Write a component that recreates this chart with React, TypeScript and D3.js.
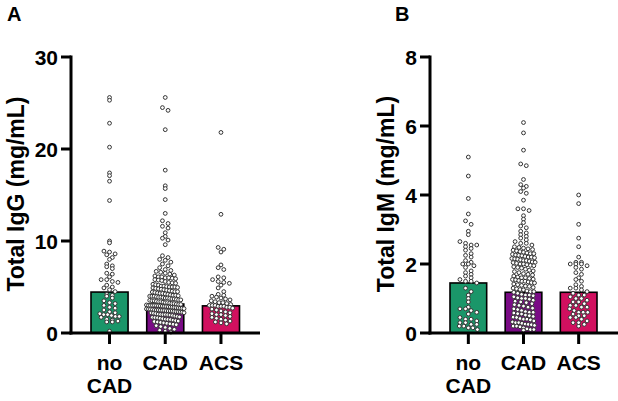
import React from "react";
import * as d3 from "d3";

const categories = ["no CAD", "CAD", "ACS"];
const igGMeans = [4.45, 3.15, 2.95];
const igMMeans = [1.45, 1.18, 1.18];
const igGTicks = [0, 10, 20, 30];
const igMTicks = [0, 2, 4, 6, 8];

const igGNoCAD = [25.6, 25.3, 22.8, 20.2, 17.4, 17.1, 16.5, 14.4, 10.0, 9.8, 8.9, 8.8, 8.6, 8.5, 8.2, 8.0, 7.5, 7.3, 7.2, 7.0,
  6.5, 6.4, 6.1, 5.8, 5.8, 5.6, 5.5, 5.2, 5.0, 4.9, 4.7, 4.5, 4.2, 4.1, 4.0, 3.8, 3.5, 3.3, 3.2, 3.0, 2.8, 2.7, 2.5, 2.3,
  2.2, 2.1, 2.0, 2.0, 1.9, 1.8, 1.8, 1.7, 1.5, 1.4, 1.3, 1.2, 1.2, 0.2];
const igGCAD = [25.6, 24.5, 24.2, 22.1, 17.7, 16.0, 15.7, 14.5, 13.0, 12.2, 11.9, 11.6, 11.4, 10.9, 10.5, 10.3, 10.1, 9.6,
  8.4, 8.2, 8.0, 7.9, 7.7, 7.5, 7.3, 7.1,
  6.9, 6.8, 6.7, 6.6, 6.5, 6.4, 6.3, 6.2, 6.1, 6.1, 6.0, 6.0,
  5.95, 5.9, 5.8, 5.75, 5.7, 5.6, 5.5, 5.45, 5.4, 5.3, 5.25, 5.2, 5.1, 5.1, 5.05, 5.0, 5.0, 5.0,
  4.95, 4.9, 4.85, 4.8, 4.75, 4.7, 4.65, 4.6, 4.55, 4.5, 4.5, 4.45, 4.4, 4.35, 4.3, 4.3, 4.25, 4.2, 4.15, 4.1, 4.1, 4.05, 4.0, 4.0, 4.0,
  3.95, 3.9, 3.9, 3.85, 3.8, 3.8, 3.75, 3.7, 3.7, 3.65, 3.6, 3.6, 3.55, 3.5, 3.5, 3.45, 3.4, 3.4, 3.35, 3.3, 3.3, 3.25, 3.2, 3.2,
  3.15, 3.1, 3.1, 3.05, 3.0, 3.0, 3.0, 3.0, 2.98, 2.96, 2.95,
  2.92, 2.9, 2.88, 2.85, 2.82, 2.8, 2.78, 2.75, 2.72, 2.7, 2.68, 2.65, 2.62, 2.6, 2.58, 2.55, 2.52, 2.5, 2.5, 2.48, 2.46, 2.45,
  2.42, 2.4, 2.4, 2.38, 2.35, 2.32, 2.3, 2.28, 2.25, 2.2, 2.18, 2.15, 2.1, 2.05, 2.02, 2.0, 2.0, 1.98,
  1.95, 1.9, 1.85, 1.8, 1.75, 1.7, 1.68, 1.65, 1.6, 1.55, 1.5, 1.48, 1.45, 1.4, 1.35, 1.3, 1.25, 1.2, 1.15, 1.1, 1.05, 1.0,
  0.95, 0.9, 0.8, 0.7, 0.6, 0.5, 0.4, 0.3, 0.2, 0.1];
const igGACS = [21.8, 12.9, 9.3, 9.1, 8.8, 7.4, 7.1, 6.9, 6.1, 6.0, 5.8, 5.6, 5.5, 5.4, 5.2, 4.9, 4.5, 4.2, 4.1, 4.0, 3.9,
  3.8, 3.7, 3.6, 3.5, 3.4, 3.3, 3.3, 3.2, 3.1, 3.0, 3.0, 3.0, 2.9, 2.9, 2.9, 2.8, 2.8, 2.7, 2.6, 2.5, 2.4, 2.3, 2.2,
  2.1, 2.0, 2.0, 1.9, 1.8, 1.7, 1.6, 1.5, 1.4, 1.3, 1.2, 1.1, 1.0];

const igMNoCAD = [5.1, 4.55, 3.9, 3.45, 3.25, 3.15, 2.95, 2.85, 2.65, 2.6, 2.55, 2.55, 2.5, 2.45, 2.4, 2.3, 2.25, 2.2, 2.1,
  2.05, 2.0, 2.0, 1.95, 1.9, 1.8, 1.75, 1.7, 1.65, 1.6, 1.55, 1.5, 1.5, 1.45, 1.3, 1.2, 1.1, 1.0, 0.9, 0.75, 0.7, 0.7,
  0.65, 0.6, 0.55, 0.45, 0.4, 0.4, 0.35, 0.3, 0.3, 0.25, 0.25, 0.2, 0.2, 0.15, 0.15, 0.1];
const igMCAD = [6.1, 5.8, 5.3, 4.9, 4.85, 4.45, 4.3, 4.25, 4.2, 4.1, 4.05, 3.85, 3.6, 3.6, 3.55, 3.4, 3.3, 3.2, 3.1, 3.05,
  2.95, 2.9, 2.85, 2.8, 2.75, 2.7, 2.65, 2.6, 2.6, 2.55, 2.5,
  2.48, 2.46, 2.44, 2.42, 2.4, 2.38, 2.36, 2.34, 2.32, 2.3, 2.3, 2.28, 2.26, 2.25, 2.24, 2.22, 2.2, 2.2, 2.18, 2.16, 2.15,
  2.14, 2.12, 2.1, 2.1, 2.08, 2.06, 2.05, 2.04, 2.02, 2.0, 2.0, 1.98, 1.96, 1.95,
  1.92, 1.9, 1.88, 1.85, 1.82, 1.8, 1.78, 1.75, 1.72, 1.7, 1.68, 1.65, 1.62, 1.6, 1.6, 1.58, 1.56, 1.55, 1.54, 1.52, 1.5,
  1.5, 1.48, 1.46, 1.45,
  1.42, 1.4, 1.38, 1.36, 1.35, 1.32, 1.3, 1.28, 1.26, 1.25, 1.22, 1.2, 1.2, 1.18, 1.15, 1.12, 1.1, 1.1, 1.08, 1.05, 1.02,
  1.0, 1.0, 0.98, 0.95, 0.92, 0.9, 0.88, 0.85, 0.82,
  0.8, 0.78, 0.75, 0.72, 0.7, 0.68, 0.65, 0.62, 0.6, 0.6, 0.58, 0.56, 0.55, 0.52, 0.5, 0.48, 0.46, 0.45, 0.42, 0.4, 0.4,
  0.38, 0.35, 0.32, 0.3, 0.3, 0.28, 0.26, 0.25, 0.24, 0.22, 0.2, 0.2, 0.18, 0.15, 0.12, 0.1, 0.1, 0.08];
const igMACS = [4.0, 3.75, 3.15, 2.75, 2.5, 2.2, 2.05, 2.05, 2.0, 2.0, 2.0, 1.95, 1.9, 1.85, 1.75, 1.7, 1.6, 1.55, 1.5,
  1.4, 1.35, 1.3, 1.25, 1.2, 1.15, 1.1, 1.05, 1.0, 0.95, 0.9, 0.85, 0.8, 0.75, 0.7, 0.65, 0.6, 0.6, 0.55, 0.5, 0.45,
  0.4, 0.35, 0.3, 0.25, 0.2, 1.3, 1.1, 0.9, 0.75, 0.5, 0.3, 1.0, 0.8, 0.6, 0.45];

const colors = ["#1a9669", "#7a0b86", "#d1105f"];
const FONT = "Arial, 'Liberation Sans', Helvetica, sans-serif";

type Pt = { v: number; y: number; x: number };

function rowWidth(n: number): number {
  if (n <= 4) return 5.6 * (n - 1);
  return Math.min(38, 16.8 + 1.3 * (n - 4));
}

// GraphPad-like scatter: bin points into rows, spread each row horizontally
function scatterRows(vals: number[], y: d3.ScaleLinear<number, number>, rowH: number): Pt[] {
  const pts: Pt[] = vals.map((v) => ({ v, y: y(v), x: 0 }));
  const rows = d3.group(pts, (p) => Math.round(p.y / rowH));
  for (const row of rows.values()) {
    row.sort((a, b) => a.y - b.y);
    const n = row.length;
    if (n === 1) continue;
    const w = rowWidth(n);
    const s = w / (n - 1);
    row.forEach((pt, k) => {
      pt.x = (k - (n - 1) / 2) * s;
    });
  }
  return pts;
}

type PanelProps = {
  letter: string;
  letterX: number;
  axisX: number;
  axisEnd: number;
  bandRange: [number, number];
  yMax: number;
  ticks: number[];
  means: number[];
  groups: number[][];
  title: string;
  titleX: number;
};

function Panel(p: PanelProps) {
  const y = d3.scaleLinear().domain([0, p.yMax]).range([333, 57]);
  const x = d3.scaleBand<string>().domain(categories).range(p.bandRange).paddingInner(0.335).paddingOuter(0);
  const bw = x.bandwidth();
  const r = 1.9;
  return (
    <g>
      <text x={p.letterX} y={21} fontFamily={FONT} fontWeight="bold" fontSize={20}>{p.letter}</text>
      <text
        transform={`translate(${p.titleX},194) rotate(-90)`}
        textAnchor="middle"
        fontFamily={FONT}
        fontWeight="bold"
        fontSize={23}
      >
        {p.title}
      </text>
      {categories.map((c, i) => (
        <rect
          key={c}
          x={x(c)!}
          y={y(p.means[i])}
          width={bw}
          height={y(0) - y(p.means[i])}
          fill={colors[i]}
          stroke="#000"
          strokeWidth={1.6}
        />
      ))}
      {categories.map((c, i) => {
        const cx = x(c)! + bw / 2;
        return scatterRows(p.groups[i], y, 4.2).map((pt, j) => (
          <circle key={c + j} cx={cx + pt.x} cy={pt.y} r={r} fill="#fff" stroke="#333" strokeWidth={1} />
        ));
      })}
      <line x1={p.axisX} x2={p.axisX} y1={y(p.yMax) - 1.5} y2={y(0) + 1.5} stroke="#000" strokeWidth={3} />
      <line x1={p.axisX - 1.5} x2={p.axisEnd} y1={y(0)} y2={y(0)} stroke="#000" strokeWidth={3} />
      {p.ticks.map((t) => (
        <g key={t}>
          <line x1={p.axisX - 10} x2={p.axisX} y1={y(t)} y2={y(t)} stroke="#000" strokeWidth={3} />
          <text
            x={p.axisX - 13}
            y={y(t)}
            dy="0.36em"
            textAnchor="end"
            fontFamily={FONT}
            fontWeight="bold"
            fontSize={21}
          >
            {t}
          </text>
        </g>
      ))}
      {categories.map((c) => {
        const cx = x(c)! + bw / 2;
        const lines = c.split(" ");
        return (
          <g key={c}>
            <line x1={cx} x2={cx} y1={y(0)} y2={y(0) + 11} stroke="#000" strokeWidth={3} />
            {lines.map((ln, k) => (
              <text
                key={k}
                x={cx}
                y={370 + k * 23}
                textAnchor="middle"
                fontFamily={FONT}
                fontWeight="bold"
                fontSize={21}
              >
                {ln}
              </text>
            ))}
          </g>
        );
      })}
    </g>
  );
}

export default function App() {
  return (
    <svg
      width={618}
      height={401}
      style={{ position: "absolute", left: 0, top: 0, background: "#fff" }}
    >
      <rect width={618} height={401} fill="#fff" />
      <Panel
        letter="A"
        letterX={7}
        axisX={71}
        axisEnd={260}
        bandRange={[91, 239.5]}
        yMax={30}
        ticks={igGTicks}
        means={igGMeans}
        groups={[igGNoCAD, igGCAD, igGACS]}
        title="Total IgG (mg/mL)"
        titleX={24}
      />
      <Panel
        letter="B"
        letterX={395}
        axisX={430}
        axisEnd={618}
        bandRange={[450, 597]}
        yMax={8}
        ticks={igMTicks}
        means={igMMeans}
        groups={[igMNoCAD, igMCAD, igMACS]}
        title="Total IgM (mg/mL)"
        titleX={394}
      />
    </svg>
  );
}
